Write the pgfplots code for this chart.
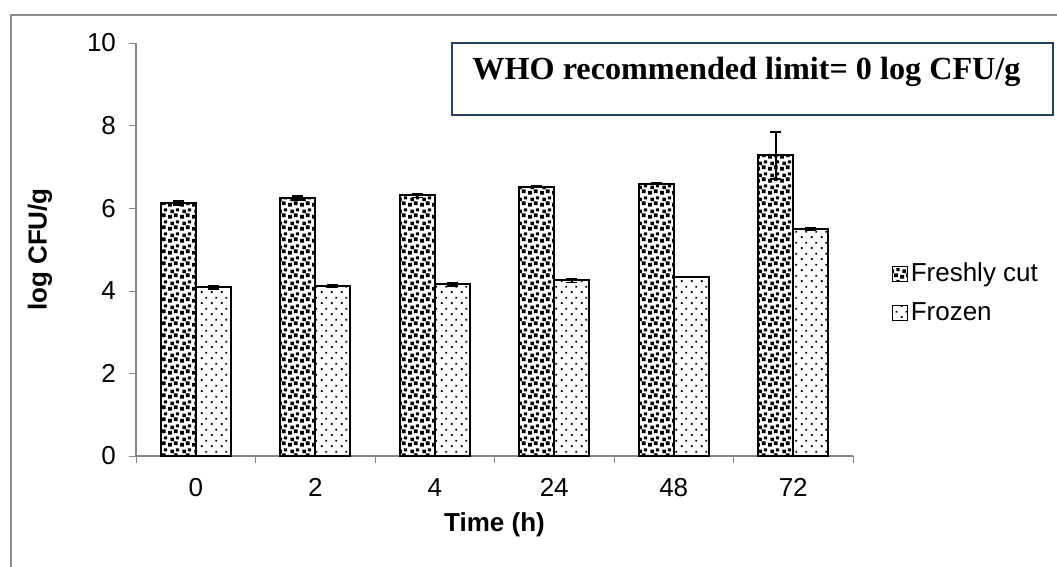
\documentclass[border=0pt]{standalone}
\usepackage{fontspec}
\setmainfont{Liberation Sans}
\newfontfamily\timesfont{Liberation Serif}
\usepackage{pgfplots}
\pgfplotsset{compat=1.18}
\usetikzlibrary{patterns}

\definecolor{axisgray}{RGB}{134,134,134}
\definecolor{framegray}{RGB}{140,140,140}
\definecolor{boxblue}{RGB}{38,64,96}

% dense black squares on white
\pgfdeclarepatternformonly{confetti}{\pgfqpoint{0pt}{0pt}}{\pgfqpoint{6pt}{6pt}}{\pgfqpoint{6pt}{6pt}}{%
  \pgfpathrectangle{\pgfqpoint{0.1pt}{0.2pt}}{\pgfqpoint{2pt}{2pt}}%
  \pgfpathrectangle{\pgfqpoint{3.2pt}{1.0pt}}{\pgfqpoint{2pt}{2pt}}%
  \pgfpathrectangle{\pgfqpoint{1.3pt}{3.2pt}}{\pgfqpoint{1.9pt}{1.9pt}}%
  \pgfpathrectangle{\pgfqpoint{4.3pt}{4.1pt}}{\pgfqpoint{1.7pt}{1.7pt}}%
  \pgfusepath{fill}}
% sparse small dots
\pgfdeclarepatternformonly{sparsedots}{\pgfqpoint{0pt}{0pt}}{\pgfqpoint{5pt}{5.4pt}}{\pgfqpoint{5pt}{5.4pt}}{%
  \pgfpathrectangle{\pgfqpoint{0.5pt}{0.5pt}}{\pgfqpoint{0.9pt}{0.9pt}}%
  \pgfpathrectangle{\pgfqpoint{3pt}{3.2pt}}{\pgfqpoint{0.9pt}{0.9pt}}%
  \pgfusepath{fill}}

\pgfplotstableread{
x  y     err
0  6.13  0.05
1  6.25  0.05
2  6.31  0.05
3  6.52  0.02
4  6.59  0.02
5  7.28  0.57
}\freshly
\pgfplotstableread{
x  y     err
0  4.08  0.04
1  4.12  0.03
2  4.16  0.04
3  4.25  0.05
4  4.33  0.01
5  5.50  0.03
}\frozen

\begin{document}
\begin{tikzpicture}
\useasboundingbox (0,0) rectangle (528.5pt,283.5pt);
\draw[framegray, line width=0.7pt] (5.5pt,0pt) -- (5.5pt,276pt) -- (528.5pt,276pt);

\begin{axis}[
  at={(68pt,55.5pt)}, anchor=south west,
  scale only axis, width=358.5pt, height=206.5pt,
  font=\fontsize{13}{15}\selectfont,
  /pgf/number format/assume math mode=true,
  ymin=0, ymax=10, ytick={0,2,...,10},
  xmin=-0.5, xmax=5.5,
  xtick={0,...,5}, xticklabels={0,2,4,24,48,72},
  minor xtick={-0.5,0.5,...,5.5},
  major x tick style={draw=none},
  minor x tick style={axisgray},
  y tick style={axisgray},
  tick align=outside, major tick length=3.5pt, minor tick length=3.5pt,
  axis x line*=bottom, axis y line*=left,
  axis line style={axisgray, -, line width=0.6pt},
  xticklabel style={yshift=-4pt, text height=9.3pt, text depth=0pt},
  yticklabel style={xshift=-3pt},
  xlabel={\textbf{Time (h)}},
  ylabel={\textbf{log CFU/g}},
  xlabel style={at={(axis description cs:0.5,-0.167)}, anchor=center},
  ylabel style={at={(axis description cs:-0.134,0.5)}, anchor=center},
  ybar=0pt, bar width=17.5pt,
  legend style={draw=none, fill=none, at={(1.046,0.394)}, anchor=west,
    legend cell align=left, row sep=6pt,
    nodes={inner sep=1.5pt},
    font=\fontsize{13}{15}\selectfont},
  legend image code/.code={\draw[#1, draw=black, line width=0.5pt] (0pt,-3.6pt) rectangle (7.2pt,3.6pt);},
  clip=false,
]
\addplot[draw=black, line width=1pt, fill=white, postaction={pattern=confetti},
  error bars/.cd, y dir=both, y explicit,
  error bar style={black, line width=0.8pt},
  error mark options={rotate=90, mark size=2.8pt, black, line width=0.8pt}]
  table[x=x, y=y, y error=err] {\freshly};
\addplot[draw=black, line width=1pt, fill=white, postaction={pattern=sparsedots},
  error bars/.cd, y dir=both, y explicit,
  error bar style={black, line width=0.8pt},
  error mark options={rotate=90, mark size=2.8pt, black, line width=0.8pt}]
  table[x=x, y=y, y error=err] {\frozen};
\legend{Freshly cut, Frozen}
\end{axis}

\draw[boxblue, line width=1pt] (226pt,226pt) rectangle (526.5pt,262pt);
\node[anchor=west, inner sep=0pt, font=\timesfont\bfseries\fontsize{16.1}{18}\selectfont]
  at (236pt,247.5pt) {WHO recommended limit= 0 log CFU/g};
\end{tikzpicture}
\end{document}
